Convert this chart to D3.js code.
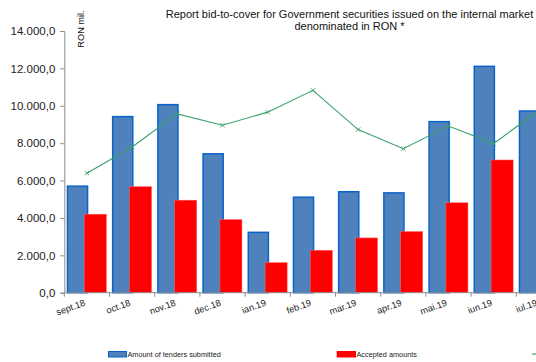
<!DOCTYPE html>
<html>
<head>
<meta charset="utf-8">
<script src="https://cdn.jsdelivr.net/npm/d3@7"></script>
<style>
  html, body { margin: 0; padding: 0; background: #fff; }
  svg { display: block; font-family: "Liberation Sans", Arial, sans-serif; }
</style>
</head>
<body>
<svg id="chart" width="536" height="362"></svg>
<script>
// Monthly auctions of government securities denominated in RON
const months = ["sept.18", "oct.18", "nov.18", "dec.18", "ian.19", "feb.19",
                "mar.19", "apr.19", "mai.19", "iun.19", "iul.19"];
// Amount of tenders submitted (RON mil.)
const submitted = [5740, 9460, 10100, 7470, 3270, 5150, 5440, 5380, 9190, 12150, 9760];
// Accepted amounts (RON mil.)
const accepted = [4200, 5670, 4950, 3910, 1610, 2270, 2930, 3270, 4810, 7100, 4730];
// Bid-to-cover ratio (secondary axis)
const bidToCover = [1.37, 1.67, 2.05, 1.92, 2.07, 2.32, 1.87, 1.65, 1.91, 1.71, 2.09];
const yTicks = [0, 2000, 4000, 6000, 8000, 10000, 12000, 14000];

const svg = d3.select("#chart");

const plot = { left: 64.3, top: 31, bottom: 292.7, band: 45.2 };
const x = d3.scaleBand()
  .domain(months)
  .range([plot.left, plot.left + plot.band * months.length])
  .paddingInner(0).paddingOuter(0);
const y = d3.scaleLinear().domain([0, 14000]).range([plot.bottom, plot.top]);
const y2 = d3.scaleLinear().domain([0, 3]).range([plot.bottom, plot.top]);

const fmt = v => d3.format(",.1f")(v).replace(/,/g, "#").replace(/\./g, ",").replace(/#/g, ".");

// Title
svg.append("text")
  .attr("x", 349.5).attr("y", 17.5)
  .attr("text-anchor", "middle")
  .attr("font-size", 11).attr("fill", "#111")
  .text("Report bid-to-cover for Government securities issued on the internal market");
svg.append("text")
  .attr("x", 349.5).attr("y", 30)
  .attr("text-anchor", "middle")
  .attr("font-size", 11).attr("fill", "#111")
  .text("denominated in RON *");

// Unit label
svg.append("text")
  .attr("transform", "translate(83.8,29) rotate(-90)")
  .attr("text-anchor", "middle")
  .attr("font-size", 9.2).attr("fill", "#111")
  .text("RON mil.");

// Y axis
const yAxis = svg.append("g")
  .attr("transform", `translate(${plot.left},0)`)
  .call(d3.axisLeft(y).tickValues(yTicks).tickSize(4).tickPadding(5).tickFormat(fmt));
yAxis.select(".domain").attr("stroke", "#8c8c8c");
yAxis.selectAll(".tick line").attr("stroke", "#8c8c8c");
yAxis.selectAll(".tick text")
  .attr("font-family", "Liberation Sans, Arial, sans-serif")
  .attr("font-size", 11.5).attr("fill", "#222");

// Bars: submitted (blue) behind, accepted (red) overlapping on the right
const bw = x.bandwidth();
svg.append("g").selectAll("rect")
  .data(months.map((m, i) => ({ m, v: submitted[i] })))
  .join("rect")
  .attr("x", d => x(d.m) + bw * 0.07)
  .attr("width", bw * 0.445)
  .attr("y", d => y(d.v) + 0.75)
  .attr("height", d => plot.bottom - y(d.v) - 0.75)
  .attr("fill", "#4f81bd")
  .attr("stroke", "#0a64c8")
  .attr("stroke-width", 1.5);

svg.append("g").selectAll("rect")
  .data(months.map((m, i) => ({ m, v: accepted[i] })))
  .join("rect")
  .attr("x", d => x(d.m) + bw * 0.443)
  .attr("width", bw * 0.487)
  .attr("y", d => y(d.v))
  .attr("height", d => plot.bottom - y(d.v))
  .attr("fill", "#ff0000")
  .attr("stroke", "#ff6060")
  .attr("stroke-width", 0.5);

// X axis
const xAxis = svg.append("g")
  .attr("transform", `translate(0,${plot.bottom})`);
xAxis.append("line")
  .attr("x1", plot.left).attr("x2", plot.left + plot.band * months.length)
  .attr("y1", 0).attr("y2", 0)
  .attr("stroke", "#8c8c8c");
xAxis.selectAll("line.tick")
  .data(months.concat(["_end"]))
  .join("line")
  .attr("class", "tick")
  .attr("x1", (d, i) => plot.left + i * bw).attr("x2", (d, i) => plot.left + i * bw)
  .attr("y1", 0).attr("y2", 4)
  .attr("stroke", "#8c8c8c");
xAxis.selectAll("text")
  .data(months)
  .join("text")
  .attr("transform", d => `translate(${x(d) + bw / 2 - 1},12.5) rotate(-20)`)
  .attr("text-anchor", "end")
  .attr("font-size", 9.2).attr("fill", "#222")
  .text(d => d);

// Bid-to-cover line with x markers
const cx = d => x(d) + bw / 2;
const line = d3.line().x(d => cx(d.m)).y(d => y2(d.v));
const pts = months.map((m, i) => ({ m, v: bidToCover[i] }));
svg.append("path")
  .datum(pts)
  .attr("d", line)
  .attr("fill", "none")
  .attr("stroke", "#3aa06a")
  .attr("stroke-width", 1.1);
svg.append("g").selectAll("path")
  .data(pts)
  .join("path")
  .attr("d", d => {
    const px = cx(d.m), py = y2(d.v), s = 2.2;
    return `M${px - s},${py - s}L${px + s},${py + s}M${px - s},${py + s}L${px + s},${py - s}`;
  })
  .attr("stroke", "#3aa06a")
  .attr("stroke-width", 0.9);

// Legend
const legend = svg.append("g").attr("font-size", 7.3).attr("fill", "#222");
legend.append("rect")
  .attr("x", 108.5).attr("y", 351.5).attr("width", 18).attr("height", 5.5)
  .attr("fill", "#4f81bd").attr("stroke", "#0a64c8").attr("stroke-width", 1);
legend.append("text").attr("x", 127.5).attr("y", 357).text("Amount of tenders submitted");
legend.append("rect")
  .attr("x", 336.7).attr("y", 351).attr("width", 19.3).attr("height", 6.5)
  .attr("fill", "#ff0000");
legend.append("text").attr("x", 356.5).attr("y", 357).text("Accepted amounts");
legend.append("line")
  .attr("x1", 532).attr("x2", 550).attr("y1", 354).attr("y2", 354)
  .attr("stroke", "#3aa06a").attr("stroke-width", 1.2);
</script>
</body>
</html>
